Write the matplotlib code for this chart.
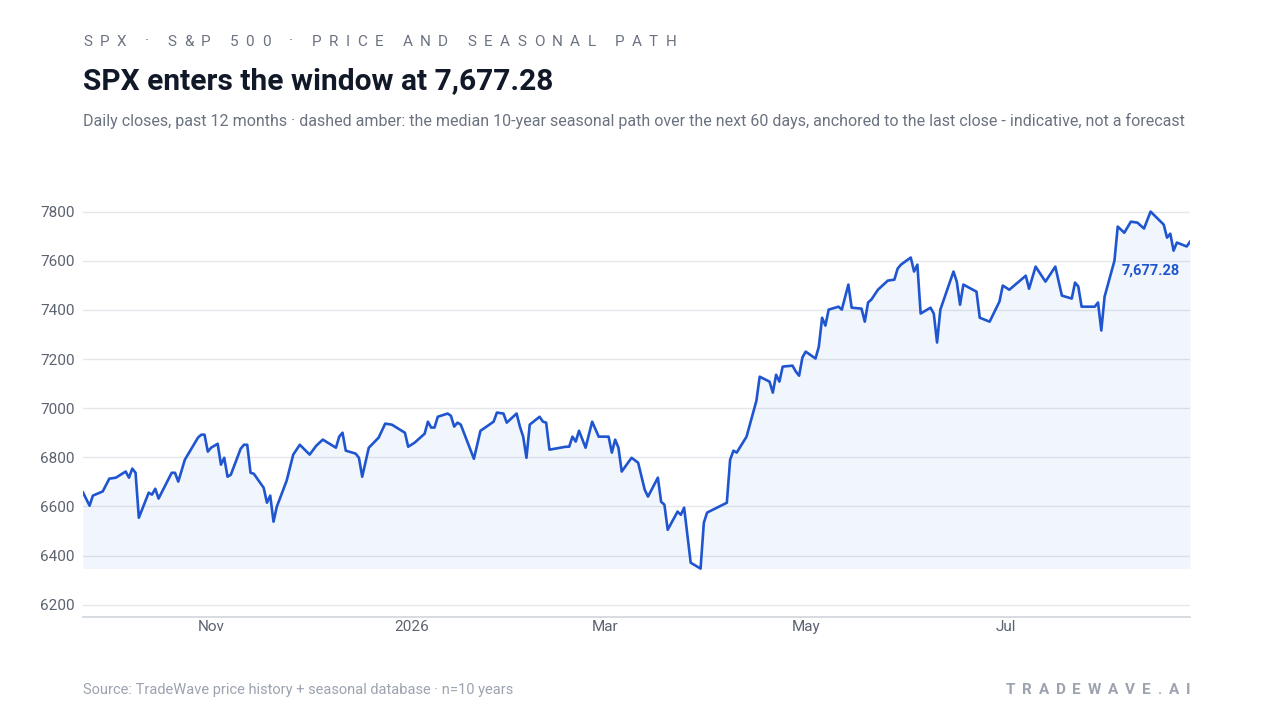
import numpy as np
import matplotlib
matplotlib.use('Agg')
import matplotlib.pyplot as plt
import matplotlib.dates as mdates
from matplotlib.ticker import FuncFormatter

plt.rcParams['font.family'] = ['Roboto', 'DejaVu Sans']

# daily closes (day offset from start date, close)
start_date = np.datetime64('2025-09-23')
day_offsets = [0, 2, 3, 6, 8, 10, 13, 14, 15, 16, 17, 20, 21, 22, 23, 27, 28, 29, 31, 35,
               36, 37, 38, 39, 41, 42, 43, 44, 45, 48, 49, 50, 51, 52, 55, 56, 57, 58, 59, 62,
               64, 66, 69, 71, 73, 77, 78, 79, 80, 83, 84, 85, 87, 90, 92, 94, 98, 99, 101, 104,
               105, 106, 107, 108, 111, 112, 113, 114, 115, 119, 121, 122, 125, 126, 128, 129, 132, 133, 134, 135,
               136, 139, 140, 141, 142, 147, 148, 149, 150, 151, 153, 155, 157, 160, 161, 162, 163, 164, 167, 169,
               171, 172, 175, 176, 177, 178, 181, 182, 183, 185, 188, 189, 190, 196, 197, 198, 199, 202, 204, 205,
               206, 209, 210, 211, 212, 213, 216, 217, 218, 219, 220, 223, 224, 225, 226, 227, 230, 231, 233, 234,
               237, 238, 239, 240, 242, 245, 247, 248, 249, 252, 253, 254, 255, 258, 259, 260, 261, 265, 266, 267,
               268, 272, 273, 276, 279, 280, 282, 287, 288, 290, 293, 296, 298, 301, 302, 303, 304, 308, 309, 310,
               311, 314, 315, 317, 319, 321, 323, 325, 329, 330, 331, 332, 333, 336, 337]
closes = [6657, 6603, 6644, 6661, 6713, 6717, 6742, 6717, 6754, 6737, 6554, 6656, 6648, 6672, 6632, 6737, 6737, 6701, 6790, 6880,
          6892, 6892, 6823, 6839, 6855, 6770, 6798, 6721, 6729, 6835, 6851, 6851, 6737, 6733, 6676, 6615, 6644, 6538, 6599, 6705,
          6811, 6851, 6811, 6847, 6872, 6839, 6884, 6900, 6827, 6815, 6798, 6721, 6839, 6880, 6937, 6933, 6900, 6843, 6860, 6896,
          6945, 6921, 6921, 6965, 6978, 6969, 6925, 6941, 6933, 6794, 6908, 6917, 6945, 6982, 6978, 6941, 6978, 6925, 6884, 6798,
          6933, 6965, 6945, 6941, 6831, 6843, 6843, 6884, 6864, 6908, 6839, 6945, 6884, 6884, 6819, 6872, 6839, 6742, 6798, 6778,
          6668, 6640, 6717, 6619, 6607, 6505, 6579, 6566, 6595, 6371, 6347, 6534, 6575, 6615, 6790, 6827, 6819, 6884, 6982, 7030,
          7128, 7108, 7063, 7136, 7108, 7169, 7173, 7149, 7132, 7206, 7230, 7202, 7250, 7368, 7336, 7401, 7413, 7401, 7503, 7409,
          7405, 7352, 7430, 7442, 7482, 7519, 7523, 7568, 7584, 7613, 7556, 7584, 7385, 7409, 7385, 7267, 7401, 7556, 7515, 7421,
          7503, 7474, 7368, 7352, 7434, 7499, 7482, 7539, 7486, 7576, 7515, 7576, 7458, 7446, 7511, 7495, 7413, 7413, 7430, 7316,
          7454, 7600, 7739, 7714, 7759, 7755, 7731, 7800, 7747, 7694, 7710, 7641, 7674, 7658, 7677.28]
last_label = '7,677.28'
y_ticks = [6200, 6400, 6600, 6800, 7000, 7200, 7400, 7600, 7800]

dates = start_date + np.array(day_offsets).astype('timedelta64[D]')
closes = np.array(closes)

BLUE = '#1f56d0'
fig = plt.figure(figsize=(12.8, 7.2), dpi=100)
ax = fig.add_axes([83 / 1280, 1 - 617 / 720, (1190 - 83) / 1280, 417.7 / 720])

ax.fill_between(dates, closes, closes.min(), color=BLUE, alpha=0.06, linewidth=0)
ax.plot(dates, closes, color=BLUE, linewidth=1.9, solid_joinstyle='round')

ax.set_xlim(dates[0], dates[-1])
ax.set_ylim(6150, 7850)
ax.set_yticks(y_ticks)
ax.grid(axis='y', color='#e5e7eb', linewidth=1)
ax.set_axisbelow(True)
for side in ['top', 'right', 'left']:
    ax.spines[side].set_visible(False)
ax.spines['bottom'].set_color('#d1d5db')
ax.spines['bottom'].set_linewidth(1.2)
ax.tick_params(axis='both', length=0, labelsize=11, labelcolor='#5b6270')
ax.tick_params(axis='y', pad=6)
ax.tick_params(axis='x', pad=2.5)

ax.xaxis.set_major_locator(mdates.MonthLocator(bymonth=[1, 3, 5, 7, 11]))
ax.xaxis.set_major_formatter(FuncFormatter(
    lambda v, pos: mdates.num2date(v).strftime('%Y') if mdates.num2date(v).month == 1
    else mdates.num2date(v).strftime('%b')))

ax.annotate(last_label, (dates[-1], closes[-1]), xytext=(-7, -20.5), textcoords='offset points',
            ha='right', va='center', fontsize=10.5, fontweight='bold', color=BLUE)


def spaced_text(x_px, y_px, s, size, color, track, weight='normal', align='left'):
    # draw a string char by char with extra letter spacing (pixel coords)
    r = fig.canvas.get_renderer()
    widths = []
    for ch in s:
        if ch == ' ':
            widths.append(size * 0.35)
            continue
        t = fig.text(0, 0, ch, fontsize=size, fontweight=weight)
        widths.append(t.get_window_extent(r).width)
        t.remove()
    total = sum(widths) + track * (len(s) - 1)
    x = x_px if align == 'left' else x_px - total
    for ch, w in zip(s, widths):
        if ch != ' ':
            fig.text(x / 1280, 1 - y_px / 720, ch, fontsize=size, fontweight=weight,
                     color=color, va='center', ha='left')
        x += w + track


spaced_text(83, 42, 'SPX · S&P 500 · PRICE AND SEASONAL PATH', 11, '#6b7280', 7.5)
fig.text(83 / 1280, 1 - 81 / 720, 'SPX enters the window at 7,677.28', fontsize=21.5,
         fontweight='bold', color='#111827', va='center')
fig.text(83 / 1280, 1 - 121 / 720,
         'Daily closes, past 12 months · dashed amber: the median 10-year seasonal path over the next 60 days, '
         'anchored to the last close - indicative, not a forecast',
         fontsize=11.57, color='#6b7280', va='center')
fig.text(83 / 1280, 1 - 690 / 720, 'Source: TradeWave price history + seasonal database · n=10 years',
         fontsize=10.5, color='#9ca3af', va='center')
spaced_text(1190, 690, 'TRADEWAVE.AI', 11, '#9ca3af', 6.8, weight='bold', align='right')

fig.savefig('out.png', dpi=100)
